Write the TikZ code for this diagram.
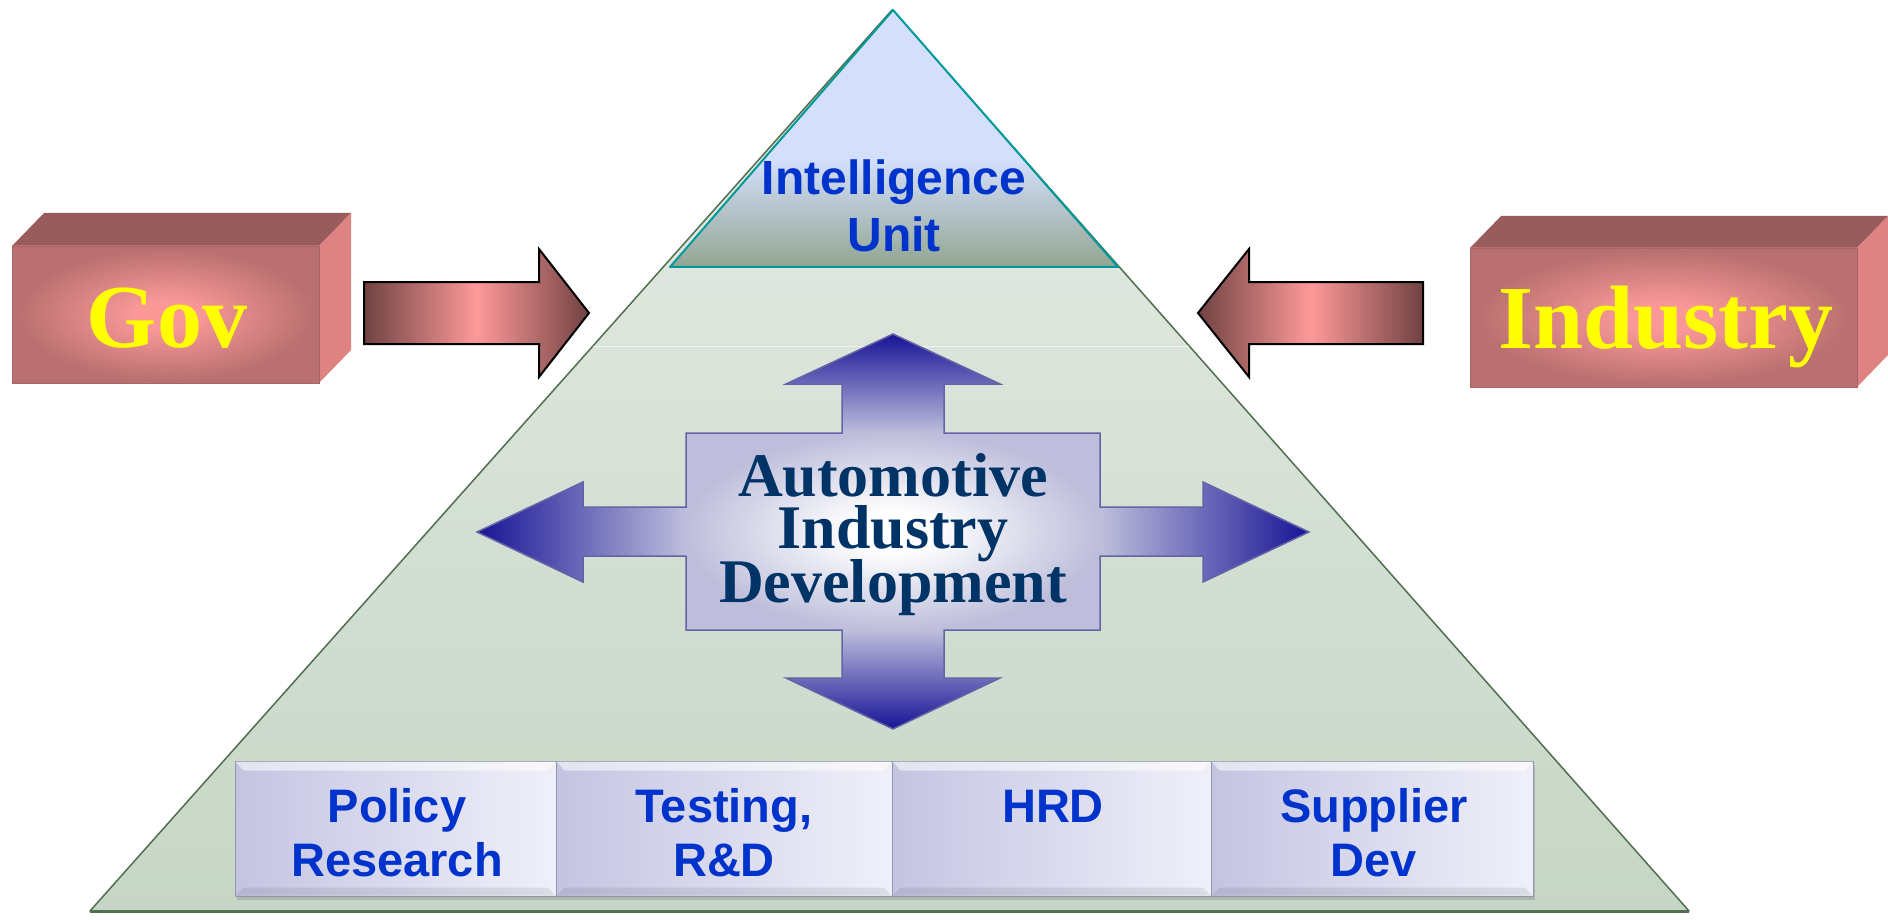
\documentclass[tikz,border=0pt]{standalone}
\usepackage{fontspec}
\setmainfont{Liberation Serif}
\newfontfamily\arialfont{Liberation Sans}
\usetikzlibrary{shadows}
\definecolor{pyrtop}{RGB}{232,236,232}
\definecolor{pyrbot}{RGB}{198,214,198}
\definecolor{pyrline}{RGB}{79,111,79}
\definecolor{intelblue}{RGB}{212,223,252}
\definecolor{intelgreen}{RGB}{146,166,146}
\definecolor{intelline}{RGB}{0,153,153}
\definecolor{txtblue}{RGB}{0,51,204}
\definecolor{navy}{RGB}{0,51,102}
\definecolor{crossdark}{RGB}{24,20,150}
\definecolor{crosslight}{RGB}{190,190,220}
\definecolor{crossline}{RGB}{100,100,165}
\definecolor{rosetop}{RGB}{153,92,92}
\definecolor{roseside}{RGB}{222,130,130}
\definecolor{roseedge}{RGB}{186,112,112}
\definecolor{rosecenter}{RGB}{250,152,152}
\definecolor{arrowdark}{RGB}{112,66,66}
\definecolor{arrowpink}{RGB}{255,153,153}
\definecolor{boxl}{RGB}{196,196,226}
\definecolor{boxr}{RGB}{240,240,250}
\definecolor{boxline}{RGB}{150,150,170}
\definecolor{gtextc}{RGB}{255,255,0}
\pgfdeclareverticalshading{intelshade}{100bp}{color(0bp)=(intelgreen); color(25bp)=(intelgreen); color(46bp)=(intelblue); color(100bp)=(intelblue)}
\pgfdeclareradialshading{roseglow}{\pgfpoint{0bp}{0bp}}{color(0bp)=(rosecenter); color(5bp)=(rosecenter); color(24bp)=(roseedge); color(50bp)=(roseedge)}
\pgfdeclareradialshading{crossglow}{\pgfpoint{0bp}{0bp}}{color(0bp)=(white); color(5bp)=(white); color(25bp)=(crosslight); color(50bp)=(crosslight)}
\begin{document}
\begin{tikzpicture}[x=1pt,y=-1pt,
  rosefront/.style={shade, shading=roseglow, inner sep=0pt, draw=roseedge!90!black, line width=0.8pt},
  bigword/.style={anchor=base, inner sep=0pt, text=gtextc, font=\fontsize{90}{90}\selectfont\bfseries},
  blockarrow/.style={draw=black, line width=2pt, line join=miter, left color=arrowdark, right color=arrowdark, middle color=arrowpink},
  autotext/.style={anchor=base, inner sep=0pt, text height=42pt, text depth=5pt, text=navy, font=\fontsize{62}{62}\selectfont\bfseries},
  sanstext/.style={anchor=base, inner sep=0pt, text=txtblue, font=\arialfont\fontsize{47}{47}\selectfont\bfseries},
  botbox/.style={draw=boxline, line width=1pt, left color=boxl, right color=boxr, minimum height=135pt, inner sep=0pt,
     drop shadow={shadow xshift=2pt, shadow yshift=-4pt, opacity=0.35}}
]
\useasboundingbox (0,0) rectangle (1888,920);
\fill[white] (0,0) rectangle (1888,920);

% pyramid
\path[top color=pyrtop, bottom color=pyrbot, draw=pyrline, line width=1.5pt, line join=round]
  (892,10) -- (1689,911) -- (90,911) -- cycle;
\draw[pyrline, line width=3pt] (90,911) -- (1689,911);
\draw[white, opacity=0.6, line width=1pt] (593,346) -- (1189,346);

% intelligence unit
\path[shade, shading=intelshade, draw=intelline, line width=2pt, line join=round]
  (893,10) -- (1118,267) -- (670,267) -- cycle;
\node[sanstext, font=\arialfont\fontsize{48}{48}\selectfont\bfseries] (intel1) at (894,195) {Intelligence};
\node[sanstext, font=\arialfont\fontsize{48}{48}\selectfont\bfseries] (intel2) at (894,252) {Unit};

% Gov box
\fill[rosetop] (12,246) -- (44,213) -- (351,213) -- (319,246) -- cycle;
\fill[roseside] (319,246) -- (351,213) -- (351,350) -- (319,383) -- cycle;
\node[rosefront, minimum width=307pt, minimum height=137pt] (govbox) at (165.5,314.5) {};
\node[bigword] (gov) at (167,347) {Gov};

% Industry box
\fill[rosetop] (1470,248) -- (1501,216) -- (1888,216) -- (1857,248) -- cycle;
\fill[roseside] (1857,248) -- (1888,216) -- (1888,355) -- (1857,387) -- cycle;
\node[rosefront, minimum width=387pt, minimum height=139pt] (indbox) at (1663.5,317.5) {};
\node[bigword] (industry) at (1666,348) {Industry};

% block arrows
\path[blockarrow] (364,282) -- (539,282) -- (539,249) -- (589,313) -- (539,377) -- (539,344) -- (364,344) -- cycle;
\path[blockarrow] (1423,282) -- (1249,282) -- (1249,249) -- (1198,313) -- (1249,377) -- (1249,344) -- (1423,344) -- cycle;

% four-way arrow
\path[top color=crossdark, bottom color=crosslight] (842,433) -- (842,384) -- (786,384) -- (893,334) -- (1000,384) -- (944,384) -- (944,433) -- cycle;
\path[bottom color=crossdark, top color=crosslight] (842,630) -- (842,678) -- (786,678) -- (893,729) -- (1000,678) -- (944,678) -- (944,630) -- cycle;
\path[left color=crossdark, right color=crosslight] (686,507) -- (583,507) -- (583,482) -- (477,532) -- (583,582) -- (583,556) -- (686,556) -- cycle;
\path[right color=crossdark, left color=crosslight] (1100,507) -- (1203,507) -- (1203,482) -- (1309,532) -- (1203,582) -- (1203,556) -- (1100,556) -- cycle;
\path[shade, shading=crossglow] (686,433) rectangle (1100,630);
\draw[crossline, line width=1.5pt, line join=miter]
  (893,334) -- (1000,384) -- (944,384) -- (944,433) -- (1100,433) -- (1100,507) -- (1203,507) -- (1203,482)
  -- (1309,532) -- (1203,582) -- (1203,556) -- (1100,556) -- (1100,630) -- (944,630) -- (944,678) -- (1000,678)
  -- (893,729) -- (786,678) -- (842,678) -- (842,630) -- (686,630) -- (686,556) -- (583,556) -- (583,582)
  -- (477,532) -- (583,482) -- (583,507) -- (686,507) -- (686,433) -- (842,433) -- (842,384) -- (786,384) -- cycle;
\node[autotext] (auto1) at (893,496) {Automotive};
\node[autotext] (auto2) at (893,548) {Industry};
\node[autotext] (auto3) at (893,602) {Development};

% bottom boxes
\node[botbox, minimum width=321pt] (b1) at (395.5,828.5) {};
\node[botbox, minimum width=336pt] (b2) at (724,828.5) {};
\node[botbox, minimum width=319pt] (b3) at (1051.5,828.5) {};
\node[botbox, minimum width=322pt] (b4) at (1372,828.5) {};
\foreach \b in {b1,b2,b3,b4}{
  \fill[white, opacity=0.55] ([xshift=1pt,yshift=-1pt]\b.north west) -- ([xshift=-1pt,yshift=-1pt]\b.north east)
     -- ([xshift=-9pt,yshift=-10pt]\b.north east) -- ([xshift=9pt,yshift=-10pt]\b.north west) -- cycle;
  \fill[black, opacity=0.08] ([xshift=1pt,yshift=1pt]\b.south west) -- ([xshift=-1pt,yshift=1pt]\b.south east)
     -- ([xshift=-9pt,yshift=9pt]\b.south east) -- ([xshift=9pt,yshift=9pt]\b.south west) -- cycle;
}
\node[sanstext] (t1a) at (397,822) {Policy};
\node[sanstext] (t1b) at (397,876) {Research};
\node[sanstext] (t2a) at (724,822) {Testing,};
\node[sanstext] (t2b) at (724,876) {R\&D};
\node[sanstext] (t3a) at (1053,822) {HRD};
\node[sanstext] (t4a) at (1374,822) {Supplier};
\node[sanstext] (t4b) at (1374,876) {Dev};
\end{tikzpicture}
\end{document}
